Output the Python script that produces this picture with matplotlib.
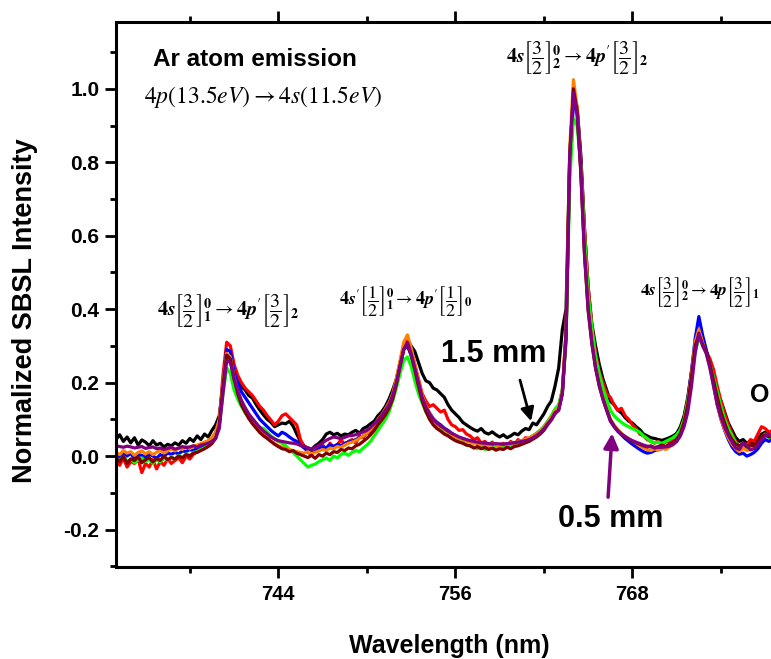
import numpy as np
import matplotlib
matplotlib.use("Agg")
from matplotlib import pyplot as plt
from matplotlib.ticker import MultipleLocator

plt.rcParams['font.family'] = ['Liberation Sans', 'DejaVu Sans']
plt.rcParams['mathtext.fontset'] = 'stix'

# wavelength grid, 0.25 nm steps from 733 to 778 nm
wavelength = np.arange(733.0, 778.001, 0.25)

spec_black = [
    0.045, 0.058, 0.040, 0.052, 0.036, 0.050, 0.030, 0.044,
    0.038, 0.028, 0.042, 0.030, 0.035, 0.025, 0.032, 0.028,
    0.036, 0.030, 0.042, 0.035, 0.048, 0.040, 0.055, 0.045,
    0.060, 0.052, 0.070, 0.085, 0.110, 0.190, 0.270, 0.265,
    0.225, 0.205, 0.190, 0.180, 0.165, 0.158, 0.140, 0.125,
    0.112, 0.100, 0.092, 0.080, 0.085, 0.090, 0.088, 0.095,
    0.082, 0.060, 0.040, 0.028, 0.020, 0.018, 0.028, 0.035,
    0.045, 0.060, 0.065, 0.058, 0.062, 0.055, 0.060, 0.058,
    0.065, 0.070, 0.062, 0.075, 0.080, 0.088, 0.095, 0.110,
    0.120, 0.135, 0.155, 0.180, 0.210, 0.255, 0.300, 0.315,
    0.300, 0.285, 0.255, 0.225, 0.205, 0.200, 0.185, 0.180,
    0.170, 0.160, 0.140, 0.125, 0.115, 0.105, 0.092, 0.085,
    0.078, 0.072, 0.068, 0.075, 0.064, 0.060, 0.066, 0.058,
    0.052, 0.058, 0.050, 0.055, 0.062, 0.058, 0.068, 0.075,
    0.072, 0.090, 0.085, 0.100, 0.115, 0.135, 0.150, 0.190,
    0.240, 0.345, 0.400, 0.820, 0.980, 0.950, 0.820, 0.620,
    0.460, 0.360, 0.300, 0.250, 0.210, 0.180, 0.150, 0.140,
    0.125, 0.118, 0.105, 0.095, 0.090, 0.080, 0.072, 0.060,
    0.055, 0.050, 0.048, 0.045, 0.043, 0.046, 0.050, 0.055,
    0.062, 0.080, 0.110, 0.160, 0.230, 0.300, 0.330, 0.310,
    0.285, 0.255, 0.215, 0.170, 0.150, 0.120, 0.090, 0.070,
    0.050, 0.040, 0.045, 0.035, 0.040, 0.030, 0.045, 0.060,
    0.065, 0.055, 0.060, 0.050, 0.055,
]

spec_red = [
    -0.010, -0.025, -0.005, -0.030, -0.015, -0.020, -0.008, -0.045,
    -0.020, -0.030, -0.010, -0.035, -0.015, -0.025, -0.008, -0.020,
    -0.012, -0.005, -0.018, 0.000, -0.008, 0.005, 0.012, 0.020,
    0.025, 0.035, 0.040, 0.055, 0.095, 0.220, 0.310, 0.300,
    0.250, 0.220, 0.200, 0.185, 0.175, 0.165, 0.150, 0.135,
    0.125, 0.110, 0.098, 0.085, 0.095, 0.110, 0.115, 0.105,
    0.095, 0.085, 0.045, 0.025, 0.010, 0.005, 0.015, 0.020,
    0.030, 0.020, 0.035, 0.025, 0.030, 0.045, 0.030, 0.040,
    0.045, 0.035, 0.055, 0.050, 0.065, 0.060, 0.080, 0.090,
    0.100, 0.115, 0.135, 0.160, 0.200, 0.250, 0.300, 0.315,
    0.290, 0.250, 0.210, 0.170, 0.150, 0.135, 0.140, 0.130,
    0.120, 0.125, 0.100, 0.085, 0.080, 0.070, 0.072, 0.060,
    0.055, 0.045, 0.050, 0.035, 0.040, 0.030, 0.038, 0.025,
    0.030, 0.035, 0.025, 0.040, 0.032, 0.045, 0.038, 0.050,
    0.048, 0.055, 0.062, 0.070, 0.080, 0.092, 0.105, 0.125,
    0.135, 0.180, 0.340, 0.800, 0.975, 0.950, 0.810, 0.620,
    0.460, 0.350, 0.280, 0.230, 0.200, 0.170, 0.160, 0.140,
    0.125, 0.130, 0.110, 0.100, 0.085, 0.075, 0.060, 0.055,
    0.045, 0.040, 0.035, 0.040, 0.032, 0.038, 0.040, 0.045,
    0.055, 0.070, 0.100, 0.150, 0.220, 0.300, 0.320, 0.310,
    0.285, 0.265, 0.235, 0.190, 0.150, 0.115, 0.085, 0.060,
    0.040, 0.025, 0.035, 0.030, 0.045, 0.040, 0.060, 0.080,
    0.075, 0.065, 0.070, 0.060, 0.065,
]

spec_blue = [
    0.005, -0.005, 0.010, 0.000, 0.008, -0.008, 0.004, 0.002,
    -0.004, 0.006, 0.000, -0.006, 0.004, 0.000, 0.008, 0.005,
    0.010, 0.006, 0.014, 0.012, 0.018, 0.015, 0.022, 0.028,
    0.032, 0.040, 0.048, 0.062, 0.100, 0.200, 0.290, 0.285,
    0.230, 0.200, 0.175, 0.160, 0.145, 0.130, 0.115, 0.100,
    0.090, 0.080, 0.070, 0.062, 0.055, 0.065, 0.060, 0.052,
    0.045, 0.040, 0.030, 0.022, 0.015, 0.008, 0.012, 0.020,
    0.025, 0.022, 0.030, 0.026, 0.032, 0.028, 0.035, 0.038,
    0.040, 0.045, 0.050, 0.055, 0.062, 0.070, 0.080, 0.092,
    0.105, 0.118, 0.135, 0.160, 0.195, 0.245, 0.290, 0.300,
    0.275, 0.235, 0.195, 0.160, 0.135, 0.118, 0.102, 0.092,
    0.085, 0.076, 0.070, 0.062, 0.056, 0.050, 0.048, 0.044,
    0.040, 0.038, 0.035, 0.034, 0.032, 0.030, 0.033, 0.030,
    0.032, 0.030, 0.034, 0.033, 0.036, 0.038, 0.040, 0.044,
    0.046, 0.052, 0.058, 0.066, 0.076, 0.090, 0.102, 0.120,
    0.130, 0.175, 0.330, 0.790, 0.960, 0.940, 0.800, 0.580,
    0.420, 0.330, 0.255, 0.205, 0.165, 0.130, 0.100, 0.082,
    0.068, 0.058, 0.048, 0.040, 0.032, 0.025, 0.018, 0.012,
    0.008, 0.010, 0.015, 0.018, 0.020, 0.024, 0.030, 0.035,
    0.045, 0.062, 0.095, 0.150, 0.230, 0.320, 0.380, 0.330,
    0.290, 0.245, 0.195, 0.140, 0.100, 0.070, 0.045, 0.025,
    0.012, 0.005, 0.008, 0.000, 0.004, 0.010, 0.020, 0.035,
    0.045, 0.040, 0.048, 0.042, 0.050,
]

spec_green = [
    -0.005, -0.012, 0.000, -0.015, -0.008, -0.018, -0.010, -0.005,
    -0.015, -0.008, -0.020, -0.010, -0.016, -0.005, -0.012, -0.002,
    -0.008, 0.002, -0.004, 0.006, 0.002, 0.010, 0.012, 0.018,
    0.022, 0.030, 0.038, 0.050, 0.085, 0.170, 0.240, 0.225,
    0.180, 0.155, 0.135, 0.118, 0.105, 0.095, 0.085, 0.078,
    0.075, 0.065, 0.055, 0.048, 0.040, 0.035, 0.028, 0.018,
    0.010, 0.000, -0.010, -0.020, -0.030, -0.025, -0.022, -0.015,
    -0.010, -0.005, -0.012, 0.000, -0.005, 0.005, 0.008, 0.002,
    0.010, 0.015, 0.012, 0.022, 0.030, 0.040, 0.055, 0.070,
    0.085, 0.100, 0.120, 0.150, 0.185, 0.225, 0.260, 0.270,
    0.245, 0.205, 0.170, 0.145, 0.120, 0.105, 0.090, 0.080,
    0.072, 0.065, 0.058, 0.050, 0.045, 0.040, 0.036, 0.030,
    0.028, 0.024, 0.020, 0.025, 0.018, 0.022, 0.020, 0.025,
    0.022, 0.026, 0.030, 0.028, 0.034, 0.036, 0.040, 0.045,
    0.048, 0.055, 0.062, 0.070, 0.080, 0.095, 0.110, 0.128,
    0.140, 0.180, 0.310, 0.750, 0.920, 0.900, 0.790, 0.600,
    0.440, 0.350, 0.270, 0.225, 0.185, 0.155, 0.125, 0.110,
    0.100, 0.092, 0.085, 0.080, 0.075, 0.070, 0.065, 0.055,
    0.048, 0.040, 0.036, 0.038, 0.034, 0.040, 0.045, 0.050,
    0.058, 0.072, 0.100, 0.150, 0.210, 0.285, 0.320, 0.305,
    0.280, 0.250, 0.215, 0.175, 0.135, 0.100, 0.075, 0.055,
    0.035, 0.025, 0.030, 0.020, 0.028, 0.022, 0.035, 0.050,
    0.058, 0.050, 0.055, 0.048, 0.055,
]

spec_orange = [
    0.010, 0.004, 0.015, 0.008, 0.012, 0.002, 0.010, 0.014,
    0.006, 0.012, 0.004, 0.010, 0.016, 0.008, 0.014, 0.020,
    0.014, 0.022, 0.018, 0.026, 0.020, 0.028, 0.030, 0.034,
    0.038, 0.042, 0.050, 0.065, 0.100, 0.200, 0.280, 0.270,
    0.215, 0.175, 0.145, 0.125, 0.105, 0.090, 0.078, 0.068,
    0.058, 0.050, 0.040, 0.035, 0.028, 0.025, 0.020, 0.018,
    0.015, 0.012, 0.010, 0.008, 0.012, 0.006, 0.010, 0.014,
    0.018, 0.015, 0.022, 0.020, 0.026, 0.024, 0.030, 0.035,
    0.038, 0.042, 0.048, 0.055, 0.062, 0.072, 0.085, 0.100,
    0.112, 0.128, 0.145, 0.170, 0.210, 0.260, 0.310, 0.330,
    0.295, 0.250, 0.205, 0.165, 0.138, 0.118, 0.100, 0.088,
    0.080, 0.072, 0.066, 0.058, 0.052, 0.048, 0.045, 0.040,
    0.038, 0.034, 0.036, 0.030, 0.032, 0.028, 0.034, 0.030,
    0.028, 0.032, 0.030, 0.036, 0.034, 0.040, 0.042, 0.046,
    0.050, 0.055, 0.060, 0.068, 0.078, 0.092, 0.105, 0.122,
    0.130, 0.175, 0.340, 0.840, 1.025, 0.950, 0.780, 0.560,
    0.405, 0.315, 0.245, 0.195, 0.160, 0.128, 0.100, 0.085,
    0.072, 0.062, 0.054, 0.048, 0.040, 0.035, 0.028, 0.022,
    0.018, 0.015, 0.020, 0.016, 0.022, 0.018, 0.025, 0.030,
    0.040, 0.058, 0.090, 0.140, 0.225, 0.310, 0.345, 0.310,
    0.280, 0.240, 0.190, 0.140, 0.100, 0.072, 0.050, 0.032,
    0.020, 0.012, 0.022, 0.015, 0.018, 0.025, 0.035, 0.050,
    0.060, 0.055, 0.062, 0.055, 0.060,
]

spec_darkred = [
    -0.005, -0.015, 0.000, -0.020, -0.008, -0.012, -0.002, -0.018,
    -0.010, -0.004, -0.016, -0.006, -0.012, 0.000, -0.010, -0.004,
    -0.008, 0.000, -0.005, 0.004, 0.000, 0.008, 0.010, 0.015,
    0.020, 0.026, 0.034, 0.048, 0.085, 0.190, 0.275, 0.265,
    0.210, 0.170, 0.140, 0.120, 0.102, 0.088, 0.076, 0.064,
    0.055, 0.048, 0.040, 0.032, 0.026, 0.020, 0.018, 0.012,
    0.015, 0.008, 0.004, 0.000, -0.004, 0.002, -0.006, 0.004,
    0.000, 0.008, 0.004, 0.012, 0.010, 0.018, 0.015, 0.022,
    0.020, 0.028, 0.032, 0.040, 0.048, 0.058, 0.070, 0.085,
    0.098, 0.112, 0.130, 0.155, 0.195, 0.245, 0.290, 0.305,
    0.275, 0.235, 0.190, 0.150, 0.122, 0.100, 0.085, 0.075,
    0.068, 0.060, 0.055, 0.048, 0.042, 0.038, 0.035, 0.030,
    0.028, 0.022, 0.026, 0.020, 0.024, 0.018, 0.022, 0.016,
    0.020, 0.018, 0.024, 0.020, 0.026, 0.028, 0.032, 0.036,
    0.040, 0.046, 0.052, 0.060, 0.070, 0.085, 0.098, 0.115,
    0.125, 0.170, 0.320, 0.810, 1.000, 0.940, 0.770, 0.550,
    0.395, 0.305, 0.240, 0.190, 0.155, 0.125, 0.098, 0.082,
    0.070, 0.060, 0.052, 0.045, 0.040, 0.036, 0.032, 0.028,
    0.025, 0.028, 0.022, 0.026, 0.030, 0.026, 0.032, 0.036,
    0.045, 0.062, 0.092, 0.140, 0.215, 0.300, 0.330, 0.305,
    0.285, 0.250, 0.205, 0.160, 0.120, 0.090, 0.062, 0.045,
    0.032, 0.028, 0.035, 0.025, 0.030, 0.028, 0.040, 0.052,
    0.058, 0.052, 0.058, 0.050, 0.056,
]

spec_purple = [
    0.028, 0.026, 0.024, 0.027, 0.025, 0.022, 0.024, 0.026,
    0.021, 0.023, 0.025, 0.020, 0.022, 0.018, 0.021, 0.024,
    0.019, 0.022, 0.026, 0.023, 0.025, 0.028, 0.024, 0.030,
    0.032, 0.035, 0.040, 0.048, 0.075, 0.170, 0.260, 0.255,
    0.210, 0.178, 0.152, 0.132, 0.115, 0.102, 0.090, 0.078,
    0.068, 0.060, 0.052, 0.046, 0.042, 0.040, 0.038, 0.036,
    0.035, 0.033, 0.029, 0.026, 0.023, 0.019, 0.024, 0.030,
    0.036, 0.043, 0.048, 0.052, 0.050, 0.047, 0.051, 0.055,
    0.056, 0.058, 0.062, 0.066, 0.070, 0.078, 0.088, 0.098,
    0.110, 0.125, 0.140, 0.165, 0.200, 0.245, 0.290, 0.310,
    0.280, 0.240, 0.200, 0.160, 0.135, 0.115, 0.100, 0.090,
    0.082, 0.075, 0.068, 0.062, 0.057, 0.052, 0.048, 0.045,
    0.042, 0.040, 0.038, 0.036, 0.035, 0.034, 0.033, 0.034,
    0.033, 0.032, 0.034, 0.035, 0.036, 0.038, 0.040, 0.042,
    0.045, 0.050, 0.056, 0.064, 0.074, 0.088, 0.100, 0.118,
    0.125, 0.170, 0.330, 0.820, 0.990, 0.930, 0.780, 0.550,
    0.400, 0.310, 0.240, 0.195, 0.155, 0.125, 0.095, 0.080,
    0.068, 0.060, 0.053, 0.047, 0.042, 0.038, 0.034, 0.030,
    0.027, 0.025, 0.024, 0.024, 0.024, 0.025, 0.027, 0.032,
    0.040, 0.055, 0.080, 0.120, 0.190, 0.280, 0.335, 0.300,
    0.280, 0.240, 0.190, 0.140, 0.105, 0.078, 0.056, 0.038,
    0.022, 0.018, 0.036, 0.028, 0.017, 0.020, 0.030, 0.045,
    0.055, 0.060, 0.050, 0.056, 0.060,
]

series = [
    (spec_black, 'black'),
    (spec_red, '#ff0000'),
    (spec_blue, '#0000ff'),
    (spec_green, '#00ff00'),
    (spec_orange, '#ff8000'),
    (spec_darkred, '#800000'),
    (spec_purple, '#800080'),
]

fig = plt.figure(figsize=(7.71, 6.59), dpi=100)
# axes run past the right edge of the figure, so the right frame is cut off
ax = fig.add_axes([116 / 771, 1 - 567 / 659, 664 / 771, 545 / 659])

for vals, col in series:
    ax.plot(wavelength, vals, color=col, lw=2.3)

ax.set_xlim(733, 778)
ax.set_ylim(-0.302, 1.182)
ax.set_xticks([744, 756, 768])
ax.set_xticks([738, 750, 762, 774], minor=True)
ax.set_yticks([-0.2, 0.0, 0.2, 0.4, 0.6, 0.8, 1.0])
ax.set_yticklabels(['-0.2', '0.0', '0.2', '0.4', '0.6', '0.8', '1.0'])
ax.yaxis.set_minor_locator(MultipleLocator(0.1))

for s in ax.spines.values():
    s.set_linewidth(2.2)
ax.tick_params(which='both', direction='out', top=True, right=False, width=2)
ax.tick_params(which='major', length=8)
ax.tick_params(which='minor', length=4)
ax.tick_params(axis='x', which='major', labelsize=14.5, pad=5)
ax.tick_params(axis='y', which='major', labelsize=15, pad=4)
for lab in ax.get_xticklabels() + ax.get_yticklabels():
    lab.set_fontweight('bold')

fig.text(25 / 771, 1 - 311 / 659, 'Normalized SBSL Intensity', rotation=90,
         ha='center', va='center', fontsize=19.5, fontweight='bold')
fig.text(449 / 771, 1 - 646 / 659, 'Wavelength (nm)',
         ha='center', va='center', fontsize=18, fontweight='bold')

ax.text(735.5, 1.080, 'Ar atom emission', fontsize=17.5, fontweight='bold',
        ha='left', va='center')
ax.text(734.9, 0.979, r'$4p(13.5eV)\rightarrow 4s(11.5eV)$', fontsize=17,
        ha='left', va='center')

# transition labels: x, y, text, font size
trans_labels = [
    (740.6, 0.397, r"$\mathbf{4}\mathbfit{s}\left[\dfrac{3}{2}\right]^{\mathbf{0}}_{\mathbf{1}}\rightarrow\mathbf{4}\mathbfit{p}'\left[\dfrac{3}{2}\right]_{\mathbf{2}}$", 14.5),
    (752.6, 0.422, r"$\mathbf{4}\mathbfit{s}'\left[\dfrac{1}{2}\right]^{\mathbf{0}}_{\mathbf{1}}\rightarrow\mathbf{4}\mathbfit{p}'\left[\dfrac{1}{2}\right]_{\mathbf{0}}$", 13),
    (764.25, 1.085, r"$\mathbf{4}\mathbfit{s}\left[\dfrac{3}{2}\right]^{\mathbf{0}}_{\mathbf{2}}\rightarrow\mathbf{4}\mathbfit{p}'\left[\dfrac{3}{2}\right]_{\mathbf{2}}$", 14.5),
    (772.55, 0.447, r"$\mathbf{4}\mathbfit{s}\left[\dfrac{3}{2}\right]^{\mathbf{0}}_{\mathbf{2}}\rightarrow\mathbf{4}\mathbfit{p}\left[\dfrac{3}{2}\right]_{\mathbf{1}}$", 12.5),
]
for x, y, s, fs in trans_labels:
    ax.text(x, y, s, fontsize=fs, ha='center', va='center')

ax.text(758.6, 0.278, '1.5 mm', fontsize=22, fontweight='bold',
        ha='center', va='center')
ax.text(766.5, -0.172, '0.5 mm', fontsize=22, fontweight='bold',
        ha='center', va='center')
ax.text(776.0, 0.166, 'O', fontsize=18, fontweight='bold',
        ha='left', va='center')

ax.annotate('', xy=(761.13, 0.095), xytext=(760.38, 0.207),
            arrowprops=dict(arrowstyle='-|>', color='black', lw=2,
                            mutation_scale=20, shrinkA=0, shrinkB=0))
ax.annotate('', xy=(766.62, 0.062), xytext=(766.35, -0.112),
            arrowprops=dict(arrowstyle='-|>', color='#800080', lw=2.5,
                            mutation_scale=22, shrinkA=0, shrinkB=0))

fig.savefig('out.png', dpi=100)
